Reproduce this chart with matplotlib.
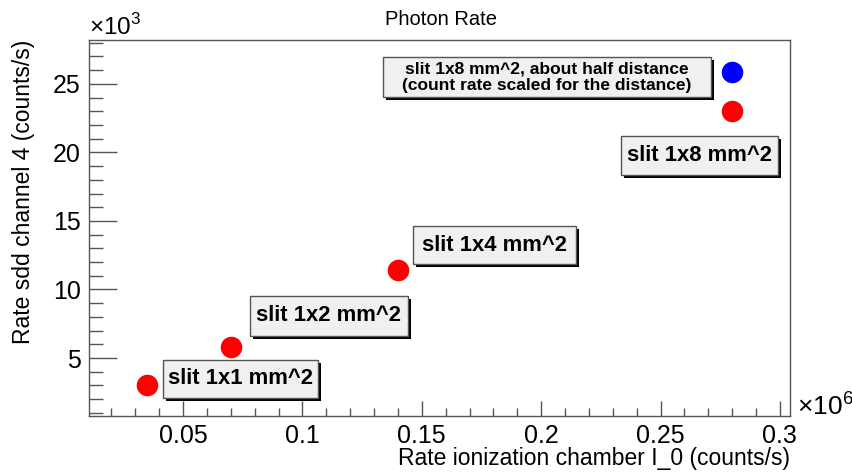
import matplotlib
matplotlib.use("Agg")
import matplotlib.pyplot as plt
from matplotlib.patches import Rectangle
from matplotlib.ticker import MultipleLocator

plt.rcParams['font.family'] = ['Liberation Sans', 'DejaVu Sans']
plt.rcParams['mathtext.fontset'] = 'custom'
plt.rcParams['mathtext.rm'] = 'Liberation Sans'

# data (x in 1e6 counts/s, y in 1e3 counts/s)
rate_i0 = [0.035, 0.07, 0.14, 0.28]
rate_sdd = [3.0, 5.8, 11.4, 23.0]
half_x = [0.28]
half_y = [25.9]

labels = ["slit 1x1 mm^2", "slit 1x2 mm^2", "slit 1x4 mm^2", "slit 1x8 mm^2"]
label_boxes = [(0.1056, 0.048, 0.221, 0.101),
               (0.2297, 0.213, 0.2254, 0.106),
               (0.4622, 0.404, 0.2325, 0.101),
               (0.7589, 0.641, 0.224, 0.104)]
half_label = "slit 1x8 mm^2, about half distance\n(count rate scaled for the distance)"
half_box = (0.4194, 0.848, 0.4679, 0.106)

fig = plt.figure(figsize=(8.53, 4.73), dpi=100)
ax = fig.add_axes([0.1043, 0.1205, 0.8218, 0.7949])

ax.plot(rate_i0, rate_sdd, 'o', color='red', markersize=14.5, zorder=5)
ax.plot(half_x, half_y, 'o', color='blue', markersize=14.5, zorder=5)

ax.set_xlim(0.0106, 0.3042)
ax.set_ylim(0.77, 28.2)
ax.xaxis.set_major_locator(MultipleLocator(0.05))
ax.xaxis.set_minor_locator(MultipleLocator(0.01))
ax.yaxis.set_major_locator(MultipleLocator(5))
ax.yaxis.set_minor_locator(MultipleLocator(1))
ax.set_xticks([0.05, 0.1, 0.15, 0.2, 0.25, 0.3])
ax.set_xticklabels(["0.05", "0.1", "0.15", "0.2", "0.25", "0.3"])
ax.set_yticks([5, 10, 15, 20, 25])
ax.set_yticklabels(["5", "10", "15", "20", "25"])

frame_col = '#555555'
for s in ax.spines.values():
    s.set_color(frame_col)
    s.set_linewidth(1.0)
ax.tick_params(which='both', direction='in', top=False, right=False,
               color=frame_col, labelsize=18, width=1.0)
ax.tick_params(axis='x', which='major', length=11, pad=6)
ax.tick_params(axis='x', which='minor', length=6)
ax.tick_params(axis='y', which='major', length=20, pad=6)
ax.tick_params(axis='y', which='minor', length=10)

ax.set_xlabel("Rate ionization chamber I_0 (counts/s)", fontsize=16.5, loc='right', labelpad=-1)
ax.set_ylabel("Rate sdd channel 4 (counts/s)", fontsize=16.5, loc='top', labelpad=13)
fig.text(0.517, 1 - 25 / 473, "Photon Rate", fontsize=14.5, ha='center', va='baseline')

fig.text(0.1043, 1 - 35 / 473, r"$\times10^{3}$", fontsize=17.5, ha='left', va='baseline')
fig.text(0.934, 1 - 415 / 473, r"$\times10^{6}$", fontsize=19, ha='left', va='baseline')

def pave(box, text, size):
    x, y, w, h = box
    dx, dy = 3 / 701, 3 / 376
    ax.add_patch(Rectangle((x + dx, y - dy), w, h, transform=ax.transAxes,
                           facecolor='black', edgecolor='none', zorder=6, clip_on=False))
    ax.add_patch(Rectangle((x, y), w, h, transform=ax.transAxes,
                           facecolor='#f0f0f0', edgecolor='#555555', linewidth=1.0,
                           zorder=7, clip_on=False))
    ax.text(x + w / 2, y + h / 2, text, transform=ax.transAxes, ha='center', va='center',
            fontsize=size, fontweight='bold', zorder=8, linespacing=1.1)

for b, t in zip(label_boxes, labels):
    pave(b, t, 15.8)
pave(half_box, half_label, 12.5)

fig.savefig("out.png", dpi=100)
